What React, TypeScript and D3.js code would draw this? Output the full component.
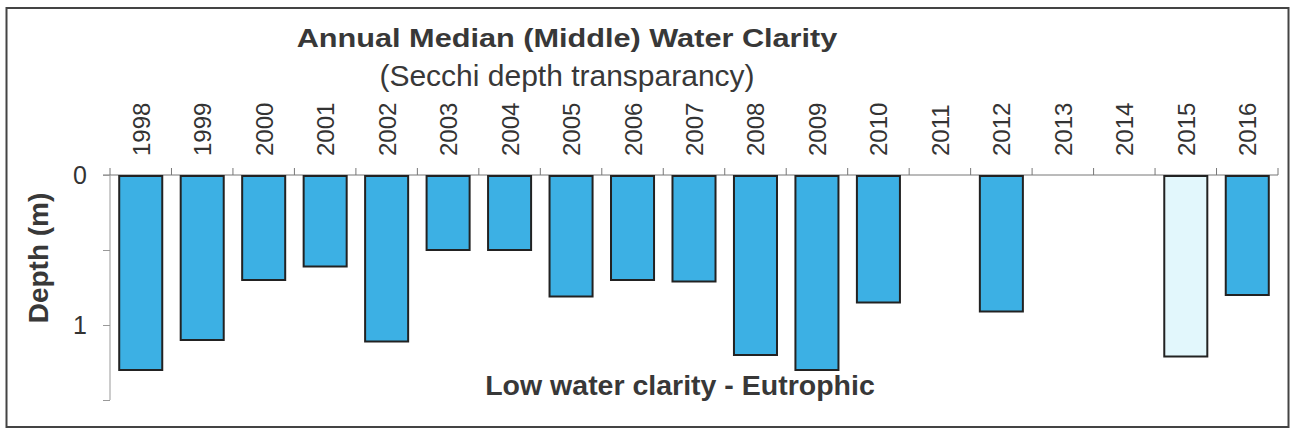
import { useRef, useEffect } from 'react';
import * as d3 from 'd3';

// Annual median Secchi depth (m); null = no sample that year
const years = ['1998', '1999', '2000', '2001', '2002', '2003', '2004', '2005', '2006', '2007',
    '2008', '2009', '2010', '2011', '2012', '2013', '2014', '2015', '2016'];
const depths: (number | null)[] = [1.30, 1.10, 0.70, 0.61, 1.11, 0.50, 0.50, 0.81, 0.70, 0.71,
    1.20, 1.30, 0.85, null, 0.91, null, null, 1.21, 0.80];
// 2015 drawn in the pale fill
const provisional = ['2015'];
const yTicks = [0, 0.5, 1, 1.5];
const yTickLabels = ['0', '', '1', ''];

const WaterClarityChart = () => {
    const svgRef = useRef<SVGSVGElement | null>(null);

    useEffect(() => {
        const svgElement = svgRef.current;
        if (!svgElement) return;

        const width = 1292;
        const margin = { top: 175, right: 14, bottom: 36, left: 110 };
        const font = '"Liberation Sans", Arial, sans-serif';

        const svg = d3.select(svgElement);
        svg.selectAll('*').remove();

        // outer frame
        svg.append('rect')
            .attr('x', 6.5)
            .attr('y', 8)
            .attr('width', 1282)
            .attr('height', 419)
            .attr('fill', 'white')
            .attr('stroke', '#444')
            .attr('stroke-width', 2);

        const x = d3.scaleBand()
            .domain(years)
            .range([margin.left, width - margin.right])
            .paddingInner(0.3)
            .paddingOuter(0.15);

        const y = d3.scaleLinear()
            .domain([0, 1.5])
            .range([margin.top, margin.top + 225]);

        // x axis along depth 0, boundary ticks pointing up
        const step = x.step();
        const boundaries = years.map(yr => (x(yr) as number) - step * x.paddingInner() / 2);
        boundaries.push(width - margin.right);

        const g = svg.append('g');
        g.append('line')
            .attr('x1', margin.left - 7)
            .attr('x2', width - margin.right)
            .attr('y1', y(0))
            .attr('y2', y(0))
            .attr('stroke', '#777')
            .attr('stroke-width', 1);

        g.selectAll('line.xtick')
            .data(boundaries)
            .join('line')
            .attr('class', 'xtick')
            .attr('x1', d => d)
            .attr('x2', d => d)
            .attr('y1', y(0) - 7)
            .attr('y2', y(0))
            .attr('stroke', '#777')
            .attr('stroke-width', 1);

        // y axis
        const yAxis = svg.append('g')
            .attr('transform', `translate(${margin.left}, 0)`)
            .call(d3.axisLeft(y)
                .tickValues(yTicks)
                .tickSize(7)
                .tickPadding(16)
                .tickFormat((_, i) => yTickLabels[i]));

        yAxis.selectAll('path, line')
            .attr('stroke', '#999')
            .attr('stroke-width', 1);
        yAxis.select('.domain').attr('d', `M0,${y(0)}V${y(1.5)}`);
        yAxis.selectAll('text')
            .attr('fill', '#333')
            .style('font-family', font)
            .style('font-size', '25px');

        // bars
        const data = years.map((yr, i) => ({ year: yr, depth: depths[i] }))
            .filter(d => d.depth !== null) as { year: string; depth: number }[];

        svg.append('g')
            .selectAll('rect')
            .data(data)
            .join('rect')
            .attr('x', d => x(d.year) as number)
            .attr('y', y(0) + 1)
            .attr('width', x.bandwidth())
            .attr('height', d => y(d.depth) - y(0) - 1)
            .attr('fill', d => provisional.includes(d.year) ? '#e2f7fc' : '#3cb0e4')
            .attr('stroke', '#222')
            .attr('stroke-width', 2);

        // year labels, rotated
        svg.append('g')
            .selectAll('text')
            .data(years)
            .join('text')
            .attr('transform', d => `translate(${(x(d) as number) + x.bandwidth() / 2 + 9}, ${y(0) - 19}) rotate(-90)`)
            .attr('text-anchor', 'start')
            .style('font-family', font)
            .style('font-size', '24px')
            .style('fill', '#333')
            .text(d => d);

        // titles (the title face is a wide bold, so stretch it)
        svg.append('text')
            .attr('transform', 'translate(567, 47) scale(1.18, 1)')
            .attr('text-anchor', 'middle')
            .style('font-family', font)
            .style('font-size', '26px')
            .style('font-weight', 'bold')
            .style('fill', '#383838')
            .text('Annual Median (Middle) Water Clarity');

        svg.append('text')
            .attr('x', 567)
            .attr('y', 86)
            .attr('text-anchor', 'middle')
            .style('font-family', font)
            .style('font-size', '30px')
            .style('fill', '#383838')
            .text('(Secchi depth transparancy)');

        svg.append('text')
            .attr('transform', 'translate(48, 258) rotate(-90)')
            .attr('text-anchor', 'middle')
            .style('font-family', font)
            .style('font-size', '28px')
            .style('font-weight', 'bold')
            .style('fill', '#383838')
            .text('Depth (m)');

        svg.append('text')
            .attr('x', 680)
            .attr('y', 395)
            .attr('text-anchor', 'middle')
            .style('font-family', font)
            .style('font-size', '28.5px')
            .style('font-weight', 'bold')
            .style('fill', '#383838')
            .text('Low water clarity - Eutrophic');
    }, []);

    return (
        <svg ref={svgRef} width={1292} height={433}
            style={{ display: 'block', position: 'absolute', left: 0, top: 0 }}></svg>
    );
};

export default function App() {
    return <WaterClarityChart />;
}
